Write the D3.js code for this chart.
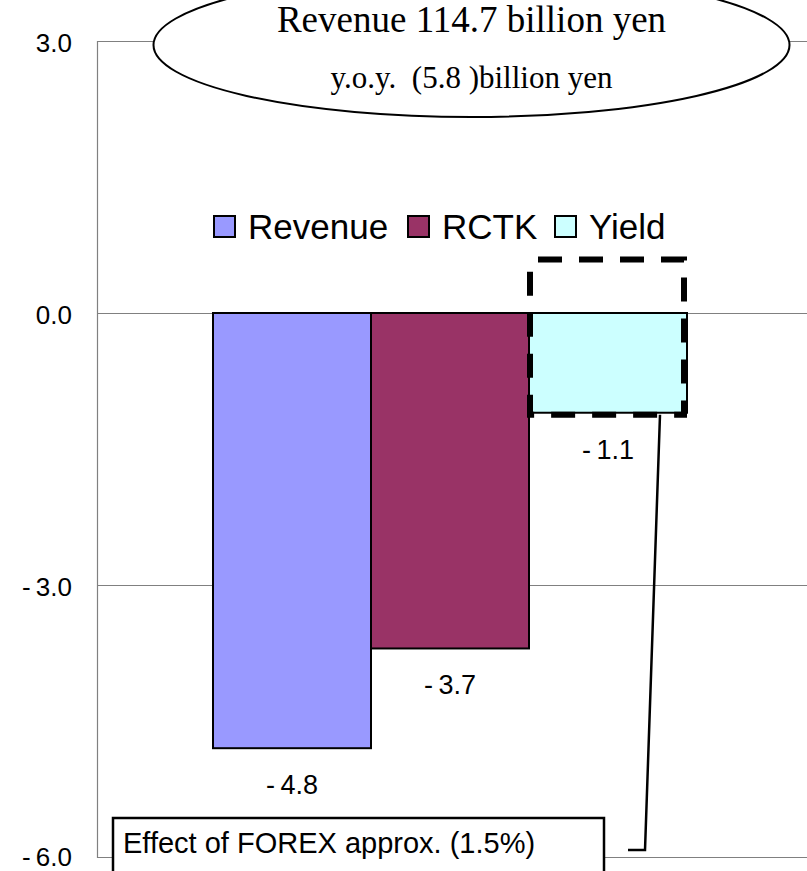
<!DOCTYPE html>
<html>
<head>
<meta charset="utf-8">
<script src="https://cdn.jsdelivr.net/npm/d3@7"></script>
<style>
  html, body { margin: 0; padding: 0; background: #fff; }
  svg { display: block; }
</style>
</head>
<body>
<div id="chart"></div>
<script>
// ---- data ----
const seriesNames = ["Revenue", "RCTK", "Yield"];
const seriesValues = [-4.8, -3.7, -1.1];
const seriesColors = ["#9999FF", "#993366", "#CCFFFF"];
const yTicks = [3.0, 0.0, -3.0, -6.0];
const titleLine1 = "Revenue 114.7 billion yen";
const titleLine2 = "y.o.y.  (5.8 )billion yen";
const forexNote = "Effect of FOREX approx. (1.5%)";
const forexBoxTop = 0.6; // top of dashed highlight (value units)

const W = 807, H = 871;
const svg = d3.select("#chart").append("svg").attr("width", W).attr("height", H);

const y = d3.scaleLinear().domain([-6, 3]).range([857, 41]);
const x = d3.scaleBand().domain(seriesNames).range([213, 687]).padding(0);
const axisX = 97;

const fmt = v => (v < 0 ? "-\u2009" : "") + d3.format(".1f")(Math.abs(v));

// gridlines
svg.append("g").selectAll("line").data(yTicks).join("line")
  .attr("x1", axisX).attr("x2", W)
  .attr("y1", d => y(d) + 0.5).attr("y2", d => y(d) + 0.5)
  .attr("stroke", "#808080").attr("stroke-width", 1);

// y axis line
svg.append("line")
  .attr("x1", axisX + 0.5).attr("x2", axisX + 0.5)
  .attr("y1", y(3)).attr("y2", y(-6) + 1)
  .attr("stroke", "#808080").attr("stroke-width", 1.2);

// tick labels
svg.append("g").selectAll("text").data(yTicks).join("text")
  .attr("x", 72).attr("y", d => Math.min(y(d) + 11, 866))
  .attr("text-anchor", "end")
  .attr("font-family", "Liberation Sans, Arial, sans-serif")
  .attr("font-size", 26)
  .text(d => fmt(d));

// bars
svg.append("g").selectAll("rect").data(seriesValues).join("rect")
  .attr("x", (d, i) => x(seriesNames[i]))
  .attr("width", x.bandwidth())
  .attr("y", d => y(Math.max(0, d)))
  .attr("height", d => Math.abs(y(d) - y(0)))
  .attr("fill", (d, i) => seriesColors[i])
  .attr("stroke", "#000").attr("stroke-width", 2);

// value labels
svg.append("g").selectAll("text").data(seriesValues).join("text")
  .attr("x", (d, i) => x(seriesNames[i]) + x.bandwidth() / 2)
  .attr("y", d => y(d) + 46)
  .attr("text-anchor", "middle")
  .attr("font-family", "Liberation Sans, Arial, sans-serif")
  .attr("font-size", 27)
  .text(d => fmt(d));

// legend
const legendX = [213, 407, 554];
const lg = svg.append("g");
seriesNames.forEach((n, i) => {
  lg.append("rect")
    .attr("x", legendX[i] + 1).attr("y", 216)
    .attr("width", 21).attr("height", 21)
    .attr("fill", seriesColors[i])
    .attr("stroke", "#000").attr("stroke-width", 2);
  lg.append("text")
    .attr("x", legendX[i] + 35).attr("y", 239)
    .attr("font-family", "Liberation Sans, Arial, sans-serif")
    .attr("font-size", 35)
    .text(n);
});

// dashed highlight around Yield
const yi = seriesNames.indexOf("Yield");
svg.append("rect")
  .attr("x", x("Yield") + 1)
  .attr("y", y(forexBoxTop) + 1)
  .attr("width", x.bandwidth() - 4)
  .attr("height", y(seriesValues[yi]) + 2 - y(forexBoxTop) - 1)
  .attr("fill", "none")
  .attr("stroke", "#000").attr("stroke-width", 6)
  .attr("stroke-dasharray", "24 17")
  .attr("stroke-dashoffset", -8);

// connector line
svg.append("path")
  .attr("d", `M660,${y(seriesValues[yi]) + 2} L645,850 L628,850`)
  .attr("fill", "none").attr("stroke", "#000").attr("stroke-width", 2.5);

// FOREX note box
svg.append("rect")
  .attr("x", 113).attr("y", 818).attr("width", 491).attr("height", 80)
  .attr("fill", "#fff").attr("stroke", "#000").attr("stroke-width", 2.5);
svg.append("text")
  .attr("x", 123).attr("y", 853)
  .attr("font-family", "Liberation Sans, Arial, sans-serif")
  .attr("font-size", 29)
  .text(forexNote);

// title ellipse
const cx = 471.5;
svg.append("ellipse")
  .attr("cx", cx).attr("cy", 45).attr("rx", 318).attr("ry", 72)
  .attr("fill", "#fff").attr("stroke", "#000").attr("stroke-width", 2);
svg.append("text")
  .attr("x", cx).attr("y", 32).attr("text-anchor", "middle")
  .attr("font-family", "Liberation Serif, Times New Roman, serif")
  .attr("font-size", 37)
  .text(titleLine1);
svg.append("text")
  .attr("x", cx).attr("y", 88).attr("text-anchor", "middle")
  .attr("font-family", "Liberation Serif, Times New Roman, serif")
  .attr("font-size", 31)
  .style("white-space", "pre")
  .text(titleLine2);
</script>
</body>
</html>
